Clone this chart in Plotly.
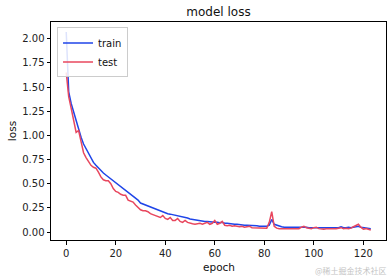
import plotly.graph_objects as go

epochs = list(range(124))

train_loss = [
    2.07, 1.45, 1.33, 1.24, 1.16, 1.06, 0.98, 0.91, 0.86, 0.81,
    0.76, 0.72, 0.69, 0.66, 0.63, 0.61, 0.59, 0.57, 0.55, 0.53,
    0.51, 0.49, 0.47, 0.45, 0.43, 0.41, 0.39, 0.37, 0.35, 0.33,
    0.30, 0.29, 0.28, 0.27, 0.26, 0.25, 0.24, 0.23, 0.215, 0.205,
    0.195, 0.19, 0.185, 0.18, 0.175, 0.17, 0.165, 0.16, 0.155, 0.145,
    0.135, 0.13, 0.125, 0.12, 0.12, 0.115, 0.11, 0.11, 0.105, 0.10,
    0.10, 0.10, 0.095, 0.10, 0.09, 0.09, 0.085, 0.085, 0.08, 0.08,
    0.075, 0.075, 0.07, 0.07, 0.07, 0.065, 0.065, 0.065, 0.06, 0.06,
    0.06, 0.06, 0.07, 0.13, 0.08, 0.07, 0.06, 0.055, 0.05, 0.05,
    0.05, 0.05, 0.05, 0.05, 0.05, 0.05, 0.055, 0.05, 0.045, 0.045,
    0.045, 0.045, 0.045, 0.045, 0.045, 0.045, 0.045, 0.045, 0.045, 0.045,
    0.045, 0.055, 0.045, 0.045, 0.05, 0.045, 0.05, 0.055, 0.06, 0.05,
    0.045, 0.04, 0.04, 0.035,
]

test_loss = [
    1.65, 1.40, 1.28, 1.17, 1.03, 1.05, 0.95, 0.82, 0.77, 0.73,
    0.69, 0.67, 0.66, 0.62, 0.57, 0.54, 0.53, 0.53, 0.50, 0.45,
    0.42, 0.41, 0.39, 0.38, 0.38, 0.33, 0.32, 0.31, 0.28, 0.25,
    0.23, 0.22, 0.22, 0.21, 0.19, 0.18, 0.17, 0.165, 0.15, 0.17,
    0.14, 0.13, 0.15, 0.12, 0.12, 0.14, 0.11, 0.10, 0.12, 0.10,
    0.09, 0.085, 0.08, 0.085, 0.09, 0.08, 0.09, 0.10, 0.08, 0.09,
    0.12, 0.08, 0.09, 0.11, 0.07, 0.065, 0.07, 0.06, 0.065, 0.06,
    0.055, 0.06, 0.05, 0.055, 0.06, 0.045, 0.045, 0.04, 0.04, 0.04,
    0.04, 0.04, 0.10, 0.21, 0.06, 0.04, 0.035, 0.035, 0.035, 0.035,
    0.035, 0.035, 0.04, 0.035, 0.035, 0.05, 0.06, 0.045, 0.04, 0.035,
    0.045, 0.05, 0.035, 0.03, 0.03, 0.035, 0.035, 0.03, 0.03, 0.035,
    0.04, 0.045, 0.035, 0.04, 0.035, 0.04, 0.055, 0.065, 0.08, 0.05,
    0.03, 0.035, 0.025, 0.02,
]

y_ticks = [0.0, 0.25, 0.5, 0.75, 1.0, 1.25, 1.5, 1.75, 2.0]
x_ticks = [0, 20, 40, 60, 80, 100, 120]

FONT = "DejaVu Sans"

fig = go.Figure()
fig.add_trace(go.Scatter(x=epochs, y=train_loss, mode="lines", name="train",
                         line=dict(color="#1f45e8", width=1.5)))
fig.add_trace(go.Scatter(x=epochs, y=test_loss, mode="lines", name="test",
                         line=dict(color="#e8475e", width=1.5)))

axis_common = dict(showline=True, linecolor="black", linewidth=1, mirror=True,
                   ticks="outside", ticklen=3.5, tickwidth=1, tickcolor="black",
                   showgrid=False, zeroline=False,
                   tickfont=dict(family=FONT, size=10, color="#222"))

fig.update_layout(
    width=392, height=278,
    margin=dict(l=51, r=6, t=22, b=38),
    paper_bgcolor="white", plot_bgcolor="white",
    showlegend=True,
    title=dict(text="model loss", x=0.5, xref="paper", xanchor="center",
               y=1 - 12 / 278, yref="container", yanchor="middle",
               font=dict(family=FONT, size=12, color="#111")),
    xaxis=dict(range=[-6.15, 129.15], tickvals=x_ticks, **axis_common),
    yaxis=dict(range=[-0.0825, 2.1725], tickvals=y_ticks, tickformat=".2f", **axis_common),
    legend=dict(x=0.018, y=0.975, xanchor="left", yanchor="top",
                bgcolor="rgba(255,255,255,0.85)", bordercolor="#cccccc", borderwidth=1,
                font=dict(family=FONT, size=10, color="#111"),
                itemwidth=30, tracegroupgap=0),
    annotations=[
        dict(text="epoch", x=0.5, y=-0.124, xref="paper", yref="paper",
             xanchor="center", yanchor="middle", showarrow=False,
             font=dict(family=FONT, size=10.5, color="#111")),
        dict(text="loss", x=-0.116, y=0.5, xref="paper", yref="paper",
             xanchor="center", yanchor="middle", showarrow=False, textangle=-90,
             font=dict(family=FONT, size=10.5, color="#111")),
        dict(text="@稀土掘金技术社区", xref="paper", yref="paper",
             x=(389 - 51) / 335, y=(240 - 270) / 218, xanchor="right", yanchor="middle",
             showarrow=False, font=dict(family="Noto Sans CJK SC", size=8, color="#c4c4c4")),
    ],
)

fig.write_html("out.html")
